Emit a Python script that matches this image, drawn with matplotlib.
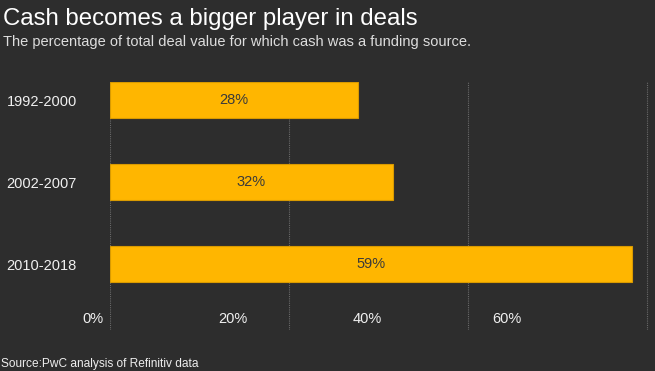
import matplotlib
matplotlib.use("Agg")
import matplotlib.pyplot as plt

periods = ["1992-2000", "2002-2007", "2010-2018"]
cash_share = [27.7, 31.6, 58.3]
bar_labels = ["28%", "32%", "59%"]
grid_ticks = [0, 20, 40, 60]
tick_labels = ["0%", "20%", "40%", "60%"]

BG = "#2d2d2d"
ORANGE = "#ffb600"

plt.rcParams["font.family"] = ["Liberation Sans", "DejaVu Sans"]

fig = plt.figure(figsize=(6.55, 3.71), dpi=100, facecolor=BG)
W, H = 655, 371
# axes from x=110..650 px, y=82..330 px
ax = fig.add_axes([110 / W, 1 - 330 / H, 540 / W, 248 / H], facecolor=BG)

ypos = list(range(len(periods)))
ax.barh(ypos, cash_share, height=0.44, color=ORANGE, edgecolor="#d99a00",
        linewidth=0.8, zorder=3)
for y, v, lab in zip(ypos, cash_share, bar_labels):
    ax.text(v / 2, y, lab, ha="center", va="center", color="#3a3a3a",
            fontsize=10.5, zorder=4)

ax.set_xlim(0, 60.34)
ax.set_ylim(2.8, -0.22)

ax.set_yticks(ypos)
ax.set_yticklabels(periods, color="#f0f0f0", fontsize=10.5)
ax.tick_params(axis="y", length=0, pad=24)

# dotted gridlines at the real scale positions
ax.set_xticks(grid_ticks)
ax.set_xticklabels([])
ax.tick_params(axis="x", length=0)
ax.grid(axis="x", color="#6a6a6a", linestyle=(0, (1, 1)), linewidth=0.8, zorder=0)
for s in ax.spines.values():
    s.set_visible(False)

# the original's tick labels sit at a compressed spacing, left of the gridlines
label_x = [-1.9, 13.7, 28.8, 44.4]
for x, lab in zip(label_x, tick_labels):
    ax.text(x, 2.66, lab, ha="center", va="center", color="#f0f0f0",
            fontsize=10.5, clip_on=False)

fig.text(3 / W, 1 - 25 / H, "Cash becomes a bigger player in deals",
         color="white", fontsize=17.3, ha="left", va="baseline")
fig.text(3 / W, 1 - 46 / H,
         "The percentage of total deal value for which cash was a funding source.",
         color="#dddddd", fontsize=10.5, ha="left", va="baseline")
fig.text(1 / W, 1 - 367 / H, "Source:PwC analysis of Refinitiv data",
         color="#eeeeee", fontsize=8.6, ha="left", va="baseline")

fig.savefig("out.png", dpi=100, facecolor=BG)
